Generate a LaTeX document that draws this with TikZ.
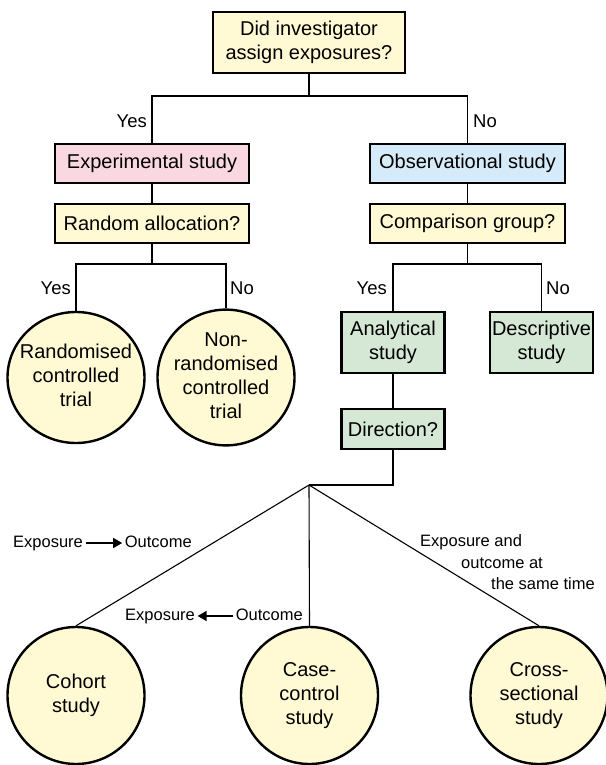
\documentclass[tikz,border=0pt]{standalone}
\usepackage{fontspec}
\setmainfont{Liberation Sans}
\usetikzlibrary{shapes.geometric, arrows.meta, positioning}
\definecolor{qyellow}{RGB}{255,250,212}
\definecolor{exppink}{RGB}{250,216,226}
\definecolor{obsblue}{RGB}{214,235,249}
\definecolor{anagreen}{RGB}{213,232,213}
\newcommand{\studytext}[1]{\makebox[0pt]{\begin{tabular}{@{}c@{}}#1\end{tabular}}}

\begin{document}
\begin{tikzpicture}[x=1pt, y=-1pt,
    box/.style={draw, rectangle, line width=2.4pt, align=center, inner sep=2pt, font=\fontsize{20}{24}\selectfont},
    qbox/.style={box, fill=qyellow},
    expbox/.style={box, fill=exppink},
    obsbox/.style={box, fill=obsblue},
    anabox/.style={box, fill=anagreen, minimum width=103pt},
    design/.style={draw, ellipse, line width=2.4pt, fill=qyellow, inner sep=0pt, minimum width=137pt, font=\fontsize{20}{24}\selectfont},
    link/.style={line width=1.1pt},
    yn/.style={inner sep=2pt, font=\fontsize{18.5}{22}\selectfont},
    note/.style={inner sep=2.5pt, font=\fontsize{16.5}{21.5}\selectfont},
    flow/.style={note, text height=12pt, text depth=3.5pt},
    dirarrow/.style={line width=1.5pt, -{Triangle[length=9pt, width=10pt]}}]
    \useasboundingbox (0,0) rectangle (605,765);
    % first question
    \node[qbox, minimum width=192pt, minimum height=61pt] (assign) at (309,42.5) {Did investigator\\assign exposures?};
    \node[expbox, minimum width=194pt, minimum height=39pt] (exp) at (152,163.5) {Experimental study};
    \node[obsbox, minimum width=195pt, minimum height=39pt] (obs) at (467.5,163.5) {Observational study};
    \node[qbox, minimum width=194pt, minimum height=39pt] (alloc) at (152,223.5) {Random allocation?};
    \node[qbox, minimum width=195pt, minimum height=39pt] (compare) at (467.5,223.5) {Comparison group?};
    \coordinate (split1) at (309,96);
    \draw[link] (assign) -- (split1);
    \draw[link] (exp.north) |- (split1) -| (obs.north);
    \draw[link] (exp) -- (alloc);
    \draw[link] (obs) -- (compare);
    \node[yn, anchor=east] (yes1) at (149,121) {Yes};
    \node[yn, anchor=west] (no1) at (471,121) {No};
    % trials
    \node[design, minimum height=131pt] (rct) at (76,377.5) {\studytext{Randomised\\controlled\\trial}};
    \node[design, minimum height=131pt] (nrct) at (226,377.5) {\studytext{Non-\\randomised\\controlled\\trial}};
    \coordinate (split2) at (152,264);
    \draw[link] (alloc) -- (split2);
    \draw[link] (rct.north) |- (split2) -| (nrct.north);
    \node[yn, anchor=east] (yes2) at (73,288) {Yes};
    \node[yn, anchor=west] (no2) at (228,288) {No};
    % observational branch
    \node[anabox, minimum height=61pt] (analytic) at (393,342.5) {Analytical\\study};
    \node[anabox, minimum height=61pt] (descr) at (541.5,342.5) {Descriptive\\study};
    \node[anabox, minimum height=40pt] (direction) at (393,429) {Direction?};
    \coordinate (split3) at (467.5,264);
    \draw[link] (compare) -- (split3);
    \draw[link] (analytic.north) |- (split3) -| (descr.north);
    \draw[link] (analytic) -- (direction);
    \node[yn, anchor=east] (yes3) at (389,288) {Yes};
    \node[yn, anchor=west] (no3) at (544,288) {No};
    % study designs
    \node[design, minimum height=137pt] (cohort) at (76,695.5) {\studytext{Cohort\\study}};
    \node[design, minimum height=137pt] (casectl) at (309.5,695.5) {\studytext{Case-\\control\\study}};
    \node[design, minimum height=137pt] (cross) at (539,695.5) {\studytext{Cross-\\sectional\\study}};
    \coordinate (fork) at (309,485);
    \draw[link] (direction.south) |- (fork);
    \draw[link] (fork) -- (cohort.north);
    \draw[link] (fork) -- (casectl.north);
    \draw[link] (fork) -- (cross.north);
    % direction labels
    \node[flow, anchor=west] (expo1) at (10.5,543) {Exposure};
    \node[flow, anchor=east] (outc1) at (194.5,543) {Outcome};
    \draw[dirarrow] (expo1) -- (outc1);
    \node[flow, anchor=west] (expo2) at (122.5,616) {Exposure};
    \node[flow, anchor=east] (outc2) at (305.5,616) {Outcome};
    \draw[dirarrow] (outc2) -- (expo2);
    \node[note, align=left, anchor=north west] (sametime) at (417.5,532) {Exposure and\\\hspace*{41pt}outcome at\\\hspace*{71pt}the same time};
\end{tikzpicture}
\end{document}
